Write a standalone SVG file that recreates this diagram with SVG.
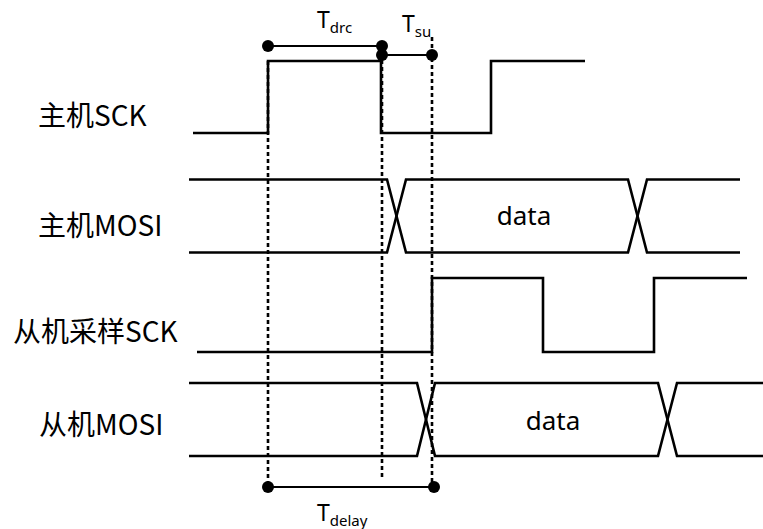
<svg xmlns="http://www.w3.org/2000/svg" width="763" height="529" viewBox="0 0 763 529">
<style>
.sig{fill:none;stroke:#000;stroke-width:2.6;stroke-linejoin:miter}
.dash{fill:none;stroke:#000;stroke-width:2.6;stroke-dasharray:4 3}
.bar{fill:none;stroke:#000;stroke-width:2.2}
.dot{fill:#000}
.lbl{font-family:"Noto Sans CJK SC","Noto Sans",sans-serif;font-size:28px;fill:#000}
.txt{font-family:"Noto Sans","Noto Sans CJK SC",sans-serif;fill:#000}
</style>
<rect width="763" height="529" fill="#fff"/>
<g id="labels">
<text class="lbl" x="38" y="126">主机SCK</text>
<text class="lbl" x="38" y="236">主机MOSI</text>
<text class="lbl" x="13" y="342">从机采样SCK</text>
<text class="lbl" x="39" y="435">从机MOSI</text>
</g>
<g id="master-sck">
<path class="sig" d="M193,133 H268 V61 H381 V133 H491 V61 H585"/>
</g>
<g id="master-mosi">
<path class="sig" d="M189,179.5 H387 L406,252.5 H628 L647,179.5 H740"/>
<path class="sig" d="M189,252.5 H387 L406,179.5 H628 L647,252.5 H740"/>
<text class="txt" x="524" y="225" font-size="26" text-anchor="middle">data</text>
</g>
<g id="slave-sck">
<path class="sig" d="M197,352 H432 V278 H543 V352 H654 V278 H747"/>
</g>
<g id="slave-mosi">
<path class="sig" d="M189,383 H417 L435,456 H658 L677,383 H763"/>
<path class="sig" d="M189,456 H417 L435,383 H658 L677,456 H763"/>
<text class="txt" x="553" y="430" font-size="26" text-anchor="middle">data</text>
</g>
<g id="connectors">
<line class="dash" x1="268" y1="61" x2="268" y2="487"/>
<line class="dash" x1="382" y1="46" x2="382" y2="480"/>
<line class="dash" x1="432" y1="37" x2="432" y2="487"/>
<line class="bar" x1="268" y1="46" x2="382" y2="46"/>
<line class="bar" x1="382" y1="55" x2="432" y2="55"/>
<line class="bar" x1="268" y1="487" x2="434" y2="487"/>
<circle class="dot" cx="268" cy="46" r="6"/>
<circle class="dot" cx="382" cy="46" r="6"/>
<circle class="dot" cx="382" cy="55" r="6"/>
<circle class="dot" cx="432" cy="55" r="6"/>
<circle class="dot" cx="268" cy="487" r="6"/>
<circle class="dot" cx="434" cy="487" r="6"/>
</g>
<g id="timing-labels">
<text class="txt" x="317" y="28" font-size="23">T<tspan font-size="15" dy="5">drc</tspan></text>
<text class="txt" x="402" y="32" font-size="23">T<tspan font-size="15" dy="5">su</tspan></text>
<text class="txt" x="317" y="521" font-size="23">T<tspan font-size="15" dy="5">delay</tspan></text>
</g>
</svg>
